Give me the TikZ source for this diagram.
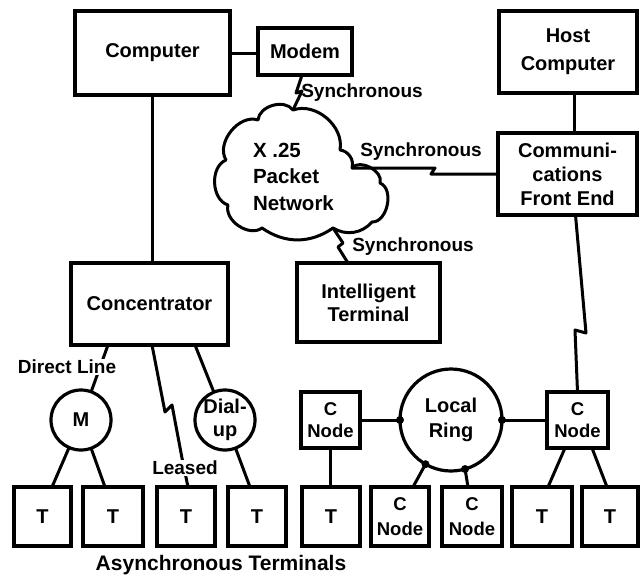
\documentclass[tikz,border=0pt]{standalone}
\usepackage{fontspec}
\setmainfont{Liberation Sans}
\usetikzlibrary{calc}
\begin{document}
\begin{tikzpicture}[x=1pt,y=-1pt,
  every node/.style={inner sep=0pt,outer sep=0pt,align=center,font=\bfseries\fontsize{20}{24}\selectfont},
  box/.style n args={2}{draw,line width=3.2pt,minimum width=#1pt,minimum height=#2pt},
  rnd/.style={draw,circle,line width=3.2pt,minimum size=#1pt},
  wire/.style={line width=3pt,line join=round},
  lbl/.style={font=\bfseries\fontsize{19}{22}\selectfont},
  ls/.style={font=\bfseries\fontsize{20}{#1}\selectfont},
  cnode/.style={font=\bfseries\fontsize{18.5}{#1}\selectfont},
]
\useasboundingbox (0,0) rectangle (640,574);

% top row
\node[box={155}{84}] (comp) at (152.5,53) {Computer};
\node[box={94}{47}] (modem) at (305,51.5) {Modem};
\node[box={138}{82},ls=28] (host) at (568,52) {Host\\Computer};
\node[box={139}{82},ls=24] (fe) at (567.5,174) {Communi-\\cations\\Front End};

% cloud
\coordinate (ctop) at (293,110);
\coordinate (cright) at (352,168);
\coordinate (cbot) at (333,228);
\draw[wire] (228,205) to[bend left=70] (226,160) to[bend left=70] (258,120)
  to[bend left=70] (ctop) to[bend left=60] (340,150) to[bend left=50] (cright)
  to[bend left=80] (380,183) to[bend left=80] (372,222) to[bend left=40] (cbot)
  to[bend left=35] (262,228) to[bend left=70] cycle;
\node[align=left,anchor=west,font=\bfseries\fontsize{20.5}{26.5}\selectfont] (x25) at (253,176.5) {X .25\\Packet\\Network};

% middle boxes
\node[box={143}{79},ls=23] (it) at (368.5,302.5) {Intelligent\\Terminal};
\node[box={157}{82}] (conc) at (149.5,304) {Concentrator};

% circles and C nodes
\node[rnd=60] (M) at (81,420) {M};
\node[rnd=60,ls=23] (dial) at (225,420) {Dial-\\up};
\node[rnd=102,ls=25] (ring) at (451,420) {Local\\Ring};
\node[box={59}{56},cnode=22] (cnL) at (330.5,420) {C\\Node};
\node[box={61}{56},cnode=22] (cnR) at (577.5,420) {C\\Node};

% bottom row
\node[box={57}{59}] (t1) at (42.5,516.5) {T};
\node[box={60}{59}] (t2) at (113,516.5) {T};
\node[box={58}{59}] (t3) at (186,516.5) {T};
\node[box={58}{59}] (t4) at (257,516.5) {T};
\node[box={58}{59}] (t5) at (331,516.5) {T};
\node[box={58}{59},cnode=25] (cn1) at (400,516.5) {C\\Node};
\node[box={60}{59},cnode=25] (cn2) at (472,516.5) {C\\Node};
\node[box={60}{59}] (t8) at (542,516.5) {T};
\node[box={56}{59}] (t9) at (610,516.5) {T};

% connectors
\draw[wire] (comp.east) -- (comp.east -| modem.west);
\draw[wire] (comp.south) -- (comp.south |- conc.north);
\draw[wire] ($(host.south)+(6,0)$) -- ($(fe.north)+(6.5,0)$);
\draw[wire] ($(modem.south)+(-3,0)$) -- (296,93) -- (302,91) -- (ctop);
\draw[wire] (cright) -- (435,168) -- (431,174) -- (fe.west);
\draw[wire] (cbot) -- (343,243) -- (338,247) -- ($(it.north west)+(51,0)$);
\draw[wire] ($(fe.south)+(8,0)$) -- (586,333) -- (575,330) -- (cnR.north);

\draw[wire] ($(conc.south west)+(37,0)$) -- (M);
\draw[wire] ($(conc.south west)+(81,0)$) -- (165,412) -- (172,405) -- (182,458) -- ($(t3.north west)+(31,0)$);
\draw[wire] ($(conc.south west)+(124,0)$) -- (dial);
\draw[wire] (dial) -- ($(t4.north west)+(22,0)$);
\draw[wire] (M) -- ($(t1.north west)+(38,0)$);
\draw[wire] (M) -- ($(t2.north west)+(22,0)$);

\draw[wire] (cnL.south) -- (cnL.south |- t5.north);
\draw[wire] (cnL.east) -- (ring.west);
\draw[wire] (ring.east) -- (cnR.west);
\draw[wire] (ring.240) -- ($(cn1.north west)+(42,0)$);
\draw[wire] (ring.286) -- ($(cn2.north west)+(26,0)$);
\foreach \a in {0,180,240,286} \fill (ring.\a) circle (4);
\draw[wire] ($(cnR.south west)+(18,0)$) -- ($(t8.north west)+(36,0)$);
\draw[wire] ($(cnR.south west)+(45,0)$) -- ($(t9.north west)+(25,0)$);

% labels
\node[lbl,fill=white,inner sep=1.5pt] (dl) at (67,367) {Direct Line};
\node[lbl,fill=white,inner sep=1.5pt] (leased) at (185,468) {Leased};
\node[lbl] (s1) at (362,93) {Synchronous};
\node[lbl] (s2) at (421,152) {Synchronous};
\node[lbl] (s3) at (413,247) {Synchronous};
\node[font=\bfseries\fontsize{21}{24}\selectfont] (async) at (221,565) {Asynchronous Terminals};
\end{tikzpicture}
\end{document}
